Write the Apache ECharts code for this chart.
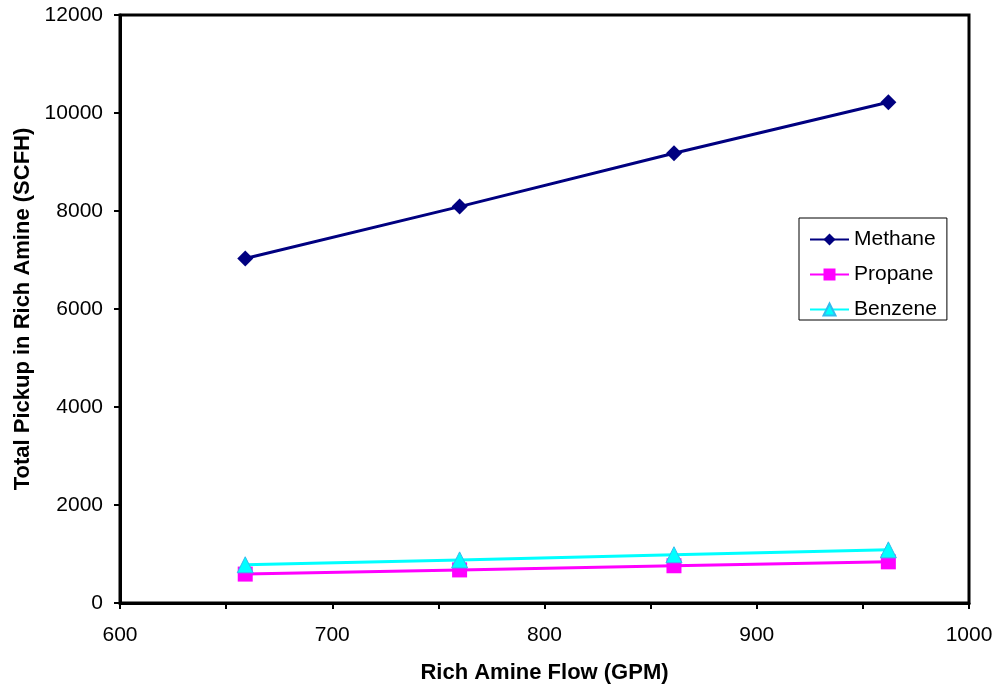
<!DOCTYPE html>
<html>
<head>
<meta charset="utf-8">
<script src="https://cdn.jsdelivr.net/npm/echarts@6/dist/echarts.min.js"></script>
<style>html,body{margin:0;padding:0;background:#fff;}#c{width:999px;height:690px;}</style>
</head>
<body>
<div id="c"></div>
<script>
const flow = [659, 760, 861, 962];
const methane = [7030, 8090, 9180, 10220];
const propane = [590, 675, 760, 840];
const benzene = [780, 880, 985, 1085];
const seriesNames = ['Methane', 'Propane', 'Benzene'];
const xTitle = 'Rich Amine Flow (GPM)';
const yTitle = 'Total Pickup in Rich Amine (SCFH)';

const pair = (ys) => flow.map((x, i) => [x, ys[i]]);
const font = 'Liberation Sans, Arial, sans-serif';

const chart = echarts.init(document.getElementById('c'), null, {renderer: 'canvas'});
chart.setOption({
  backgroundColor: '#fff',
  animation: false,
  grid: {left: 120, top: 15, right: 30, bottom: 87, show: true, borderColor: '#000', borderWidth: 3, backgroundColor: 'transparent'},
  legend: {
    orient: 'vertical', left: 799, top: 218,
    data: seriesNames,
    borderColor: '#000', borderWidth: 1, padding: [11, 10, 0, 10],
    itemWidth: 39, itemHeight: 15, itemGap: 14,
    textStyle: {fontFamily: font, fontSize: 21, color: '#000', padding: [0, 0, 0, 0]}
  },
  xAxis: {
    type: 'value', min: 600, max: 1000, interval: 50,
    name: xTitle, nameLocation: 'middle', nameGap: 59,
    nameTextStyle: {fontFamily: font, fontSize: 22, fontWeight: 'bold', color: '#000'},
    axisLine: {show: true, lineStyle: {color: '#000', width: 3}},
    axisTick: {show: true, length: 6, lineStyle: {color: '#000', width: 2}},
    axisLabel: {fontFamily: font, fontSize: 21, color: '#000', margin: 22,
      formatter: v => (v % 100 === 0 ? String(v) : '')},
    splitLine: {show: false}
  },
  yAxis: {
    type: 'value', min: 0, max: 12000, interval: 2000,
    name: yTitle, nameLocation: 'middle', nameGap: 86,
    nameTextStyle: {fontFamily: font, fontSize: 22, fontWeight: 'bold', color: '#000'},
    axisLine: {show: true, lineStyle: {color: '#000', width: 3}},
    axisTick: {show: true, length: 6, lineStyle: {color: '#000', width: 2}},
    axisLabel: {fontFamily: font, fontSize: 21, color: '#000', margin: 17,
      formatter: v => String(v)},
    splitLine: {show: false}
  },
  series: [
    {name: seriesNames[0], type: 'line', data: pair(methane), symbol: 'diamond', symbolSize: 16,
      lineStyle: {color: '#000080', width: 3}, itemStyle: {color: '#000080'}},
    {name: seriesNames[1], type: 'line', data: pair(propane), symbol: 'rect', symbolSize: 15,
      lineStyle: {color: '#FF00FF', width: 3}, itemStyle: {color: '#FF00FF'}},
    {name: seriesNames[2], type: 'line', data: pair(benzene), symbol: 'triangle', symbolSize: 16,
      lineStyle: {color: '#00FFFF', width: 3}, itemStyle: {color: '#00FFFF', borderColor: '#33BBEE', borderWidth: 1}}
  ]
});
</script>
</body>
</html>
